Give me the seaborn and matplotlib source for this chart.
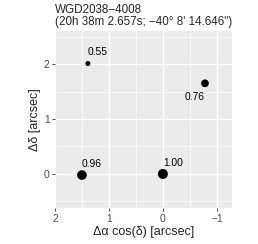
import pandas as pd
import matplotlib.pyplot as plt
import seaborn as sns

# offsets of the lensed images relative to the brightest one
dx = [1.50, 0.00, -0.78, 1.39]
dy = [-0.02, 0.00, 1.65, 2.01]
flux = [0.96, 1.00, 0.76, 0.55]
labels = ["0.96", "1.00", "0.76", "0.55"]

df = pd.DataFrame({"dx": dx, "dy": dy, "flux": flux, "label": labels})

sns.set_theme(style="darkgrid", rc={
    "axes.facecolor": "#EBEBEB",
    "grid.color": "white",
    "axes.edgecolor": "#EBEBEB",
})
plt.rcParams["font.family"] = ["Liberation Sans", "DejaVu Sans"]

fig = plt.figure(figsize=(2.58, 2.44), dpi=100)
ax = fig.add_axes([0.213, 0.1475, 0.686, 0.725])

sns.scatterplot(data=df, x="dx", y="dy", size="flux", sizes=(13, 52),
                size_norm=(0.55, 1.0), color="black", edgecolor="none",
                legend=False, ax=ax, zorder=3)

# label placement: above-right, except the 0.76 image (below-left)
for _, r in df.iterrows():
    if r["label"] == "0.76":
        off, ha, va = (0, -6), "right", "top"
    else:
        off, ha, va = (0, 4.5), "left", "bottom"
    ax.annotate(r["label"], (r["dx"], r["dy"]), xytext=off,
                textcoords="offset points", ha=ha, va=va,
                fontsize=7.4, color="black")

ax.set_xlim(2.0, -1.28)
ax.set_ylim(-0.62, 2.6)
ax.set_xticks([2, 1, 0, -1])
ax.set_xticklabels(["2", "1", "0", "\u22121"])
ax.set_yticks([0, 1, 2])
ax.set_xticks([1.5, 0.5, -0.5], minor=True)
ax.set_yticks([-0.5, 0.5, 1.5, 2.5], minor=True)
ax.grid(which="major", color="white", linewidth=1.0)
ax.grid(which="minor", color="white", linewidth=0.5)
ax.tick_params(which="major", length=2.5, width=0.6, color="#333333",
               labelsize=7.4, labelcolor="#4D4D4D", pad=1.5, bottom=True, left=True)
ax.tick_params(which="minor", length=0)
for s in ax.spines.values():
    s.set_visible(False)

ax.set_xlabel("\u0394\u03b1 cos(\u03b4) [arcsec]", fontsize=9, labelpad=2)
ax.set_ylabel("\u0394\u03b4 [arcsec]", fontsize=9, labelpad=2)

fig.text(0.213, 0.985, "WGD2038\u22124008\n(20h 38m 2.657s; \u221240\u00b0 8' 14.646\")",
         ha="left", va="top", fontsize=8.4, linespacing=1.0)

fig.savefig("out.png", dpi=100)
